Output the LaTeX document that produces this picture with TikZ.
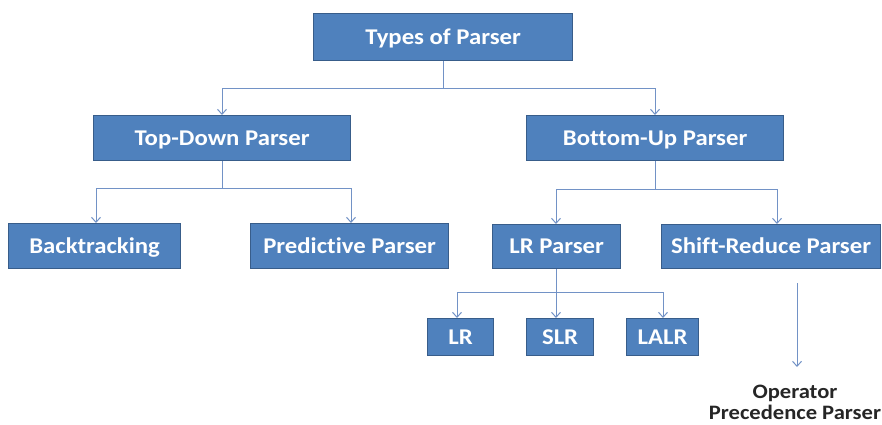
\documentclass[tikz,border=0pt]{standalone}
\usepackage{fontspec}
\setmainfont{Carlito}[RawFeature=-liga]
\newfontfamily\boxfont{Carlito}[FakeStretch=1.1, RawFeature=-liga]
\usetikzlibrary{arrows.meta}
\definecolor{boxfill}{HTML}{4F81BD}
\definecolor{boxline}{HTML}{385D8A}
\definecolor{linkcol}{HTML}{7292C6}
\begin{document}
\begin{tikzpicture}[x=1pt,y=-1pt,
  pbox/.style={draw=boxline, line width=1.2pt, fill=boxfill, text=white,
    font=\boxfont\fontsize{22.5}{24}\selectfont\bfseries, inner sep=0pt,
    text height=14.5pt, text depth=0pt, anchor=north west},
  link/.style={draw=linkcol, line width=1pt},
  arr/.style={link, -{Straight Barb[length=5pt,width=9pt,line width=1pt]}}]
\useasboundingbox (0,0) rectangle (882,424);
% boxes (drawn by corner and size)
\newcommand\pb[6]{\node[pbox, minimum width=#4pt, minimum height=#5pt] (#1) at (#2,#3) {#6};}
\pb{root}{313}{13}{259}{47}{Types of Parser}
\pb{td}{93}{115}{257}{45}{Top-Down Parser}
\pb{bu}{526}{115}{257}{45}{Bottom-Up Parser}
\pb{bt}{8}{223}{172}{45}{Backtracking}
\pb{pp}{250}{223}{198}{45}{Predictive Parser}
\pb{lrp}{492}{224}{128}{44}{LR Parser}
\pb{sr}{661}{224}{219}{44}{Shift-Reduce Parser}
\pb{lr}{427}{318}{66}{37}{LR}
\pb{slr}{526}{318}{67}{37}{SLR}
\pb{lalr}{626}{318}{72}{37}{LALR}
% free-standing leaf, plain text (base = last line's baseline)
\node[font=\boxfont\fontsize{20.5}{21}\selectfont\bfseries, text=black!85,
  align=center, anchor=base, inner sep=0pt] (opp) at (795,419)
  {Operator\\Precedence Parser};
% branch points
\coordinate (j0) at (443,88);
\coordinate (j1) at (222,188);
\coordinate (j2) at (655,189);
\coordinate (j3) at (556,292);
\coordinate (s0) at (797,283);
\coordinate (e0) at (797,367);
% connectors
\draw[link] (root.south -| j0) -- (j0);
\draw[arr] (j0) -| (td.north -| 222,0);
\draw[arr] (j0) -| (bu.north -| 655,0);
\draw[link] (td.south -| j1) -- (j1);
\draw[arr] (j1) -| (bt.north -| 96,0);
\draw[arr] (j1) -| (pp.north -| 351,0);
\draw[link] (bu.south -| j2) -- (j2);
\draw[arr] (j2) -| (lrp.north -| 556,0);
\draw[arr] (j2) -| (sr.north -| 777,0);
\draw[arr] (lrp.south -| j3) -- (slr.north -| j3);
\draw[arr] (j3) -| (lr.north -| 457,0);
\draw[arr] (j3) -| (lalr.north -| 663,0);
\draw[arr] (s0) -- (e0);
\end{tikzpicture}
\end{document}
